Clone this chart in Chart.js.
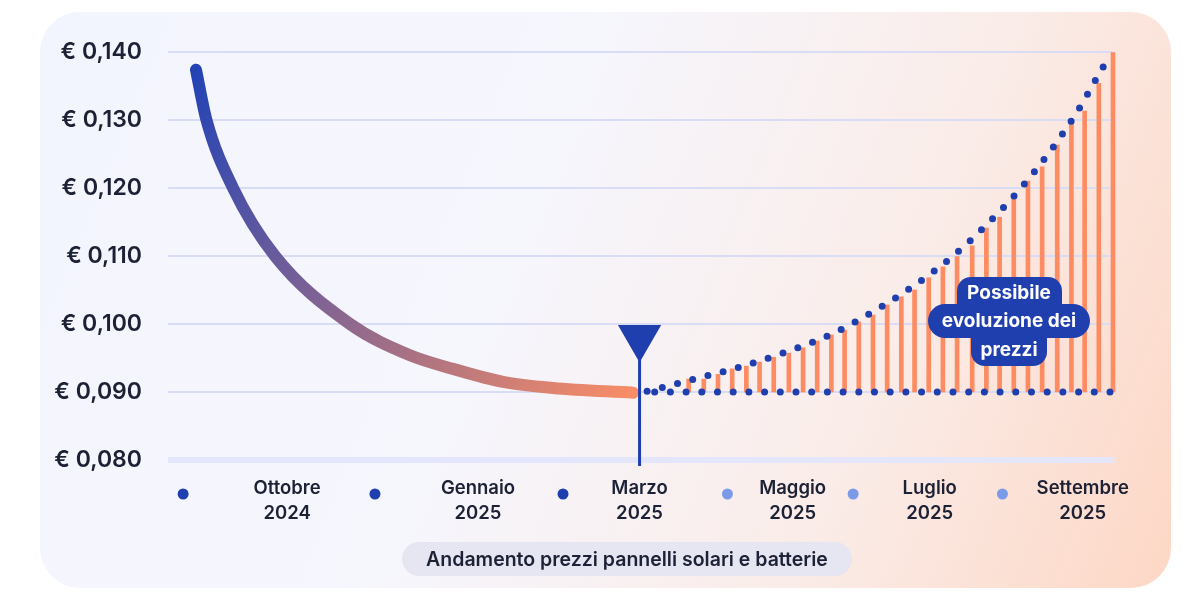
<!DOCTYPE html>
<html lang="it">
<head>
<meta charset="utf-8">
<title>Andamento prezzi pannelli solari e batterie</title>
<script src="https://cdn.jsdelivr.net/npm/chart.js@4/dist/chart.umd.min.js"></script>
<style>
  html, body { margin: 0; padding: 0; background: #ffffff; }
  body { width: 1200px; height: 600px; position: relative; overflow: hidden; font-family: 'Inter', sans-serif; }
  .card {
    position: absolute; left: 40px; top: 12px; width: 1131px; height: 576px;
    border-radius: 40px;
    background: linear-gradient(112deg, #f3f5fe 0%, #f6f6fd 42%, #faece8 72%, #fdd7c5 100%);
  }
  .wrap { position: absolute; left: 0; top: 0; width: 1200px; height: 600px; }
  .pill {
    position: absolute; left: 402px; top: 542px; width: 450px; height: 34px;
    line-height: 34px; text-align: center; border-radius: 17px;
    background: #e5e6f1; color: #1c2135; font-size: 19.5px; font-weight: 600;
    white-space: nowrap;
  }
  .note {
    position: absolute; left: 909px; top: 277px; width: 200px;
    display: flex; flex-direction: column; align-items: center;
    color: #ffffff; font-weight: 700; font-size: 19px;
  }
  .note span { background: #1f3fae; text-align: center; box-sizing: border-box; white-space: nowrap; }
  .note .l1 { width: 105px; height: 27px; line-height: 31px; border-radius: 14px 14px 0 0; }
  .note .l2 { width: 162px; height: 34px; line-height: 33px; border-radius: 17px; }
  .note .l3 { width: 76px; height: 28px; line-height: 23px; border-radius: 0 0 14px 14px; }
</style>
</head>
<body>
<div class="card"></div>
<div class="wrap"><canvas id="priceChart"></canvas></div>
<div class="pill">Andamento prezzi pannelli solari e batterie</div>
<div class="note"><span class="l1">Possibile</span><span class="l2">evoluzione dei</span><span class="l3">prezzi</span></div>

<script>
// Timeline runs 0..100 across the plot, prices in euro

// x axis: tick positions and labels, plus the little dots next to them
const tickPos = [12.6, 32.8, 49.9, 66.1, 80.6, 96.8];
const tickLabels = [
  ['Ottobre', '2024'], ['Gennaio', '2025'], ['Marzo', '2025'],
  ['Maggio', '2025'], ['Luglio', '2025'], ['Settembre', '2025']
];
const axisDotX = [1.6, 21.9, 41.8, 59.2, 72.5, 88.3];
const axisDotLevel = 0.075;

// price so far (falling curve)
const pastX = [2.96, 4.07, 6.88, 11.32, 19.26, 25.61, 30.16, 35.45, 40.74, 49.21];
const pastPrice = [0.1374, 0.1300, 0.1200, 0.1100, 0.1000, 0.0954, 0.0934, 0.0915, 0.0906, 0.0899];

// "today" marker
const markerX = 49.9;
const markerTop = 0.098;
const markerBottom = 0.0791;

// possible evolution (dotted curve)
const trendX = [50.7, 55.7, 60.6, 65.4, 70.2, 74.6, 78.9, 83.0, 86.7, 90.2, 93.3, 96.2, 98.7, 99.6];
const trendPrice = [0.0901, 0.0919, 0.0937, 0.0959, 0.0985, 0.1018, 0.1056, 0.1099, 0.1147, 0.1199, 0.1253, 0.1312, 0.1372, 0.1393];

// flat dotted base
const baseX = [51.5, 100.7];
const basePrice = 0.090;

// orange stems
const barX = [55.1, 56.7, 58.2, 59.7, 61.2, 62.6, 64.1, 65.7, 67.2, 68.7, 70.2, 71.6, 73.1, 74.6, 76.1, 77.6,
  79.0, 80.5, 82.0, 83.5, 85.1, 86.6, 88.0, 89.5, 91.0, 92.5, 94.1, 95.6, 97.0, 98.5, 100.0];
const barTop = [0.0919, 0.0919, 0.0926, 0.0934, 0.0938, 0.0944, 0.0951, 0.0957, 0.0965, 0.0975, 0.0984, 0.0991,
  0.1003, 0.1013, 0.1028, 0.1040, 0.1050, 0.1068, 0.1084, 0.1099, 0.1115, 0.1141, 0.1157, 0.1184, 0.1210,
  0.1231, 0.1263, 0.1297, 0.1313, 0.1354, 0.1399];

const colors = {
  blue: '#1f3fae',
  lightBlue: '#7b9be8',
  orange: '#fd8c62',
  start: '#2343b5',
  end: '#f98d66',
  text: '#1c2135',
  grid: '#d8ddf5',
  axis: '#e4e7fb',
};
const axisDotColors = [colors.blue, colors.blue, colors.blue, colors.lightBlue, colors.lightBlue, colors.lightBlue];

const pastGradient = (c) => {
  const chart = c.chart;
  if (!chart.chartArea) return colors.start;
  const xs = chart.scales.x, ys = chart.scales.y;
  const last = pastX.length - 1;
  const g = chart.ctx.createLinearGradient(
    xs.getPixelForValue(pastX[0]), ys.getPixelForValue(pastPrice[0]),
    xs.getPixelForValue(pastX[last]), ys.getPixelForValue(pastPrice[last]));
  g.addColorStop(0, colors.start);
  g.addColorStop(0.5, '#8e688e');
  g.addColorStop(1, colors.end);
  return g;
};

// dots in front of each month label (they sit below the plot, so points would be culled)
const axisDots = {
  id: 'axisDots',
  afterDatasetsDraw(chart) {
    const { ctx, scales: { x, y } } = chart;
    const py = y.getPixelForValue(axisDotLevel);
    ctx.save();
    axisDotX.forEach((v, i) => {
      ctx.beginPath();
      ctx.arc(x.getPixelForValue(v), py, 5.5, 0, Math.PI * 2);
      ctx.fillStyle = axisDotColors[i];
      ctx.fill();
    });
    ctx.restore();
  }
};

const dotted = {
  borderColor: colors.blue,
  borderWidth: 7,
  borderDash: [0, 15.7],
  borderCapStyle: 'round',
  pointRadius: 0,
  clip: false,
};

new Chart(document.getElementById('priceChart'), {
  type: 'line',
  data: {
    datasets: [
      {
        label: 'Marker',
        data: [{ x: markerX, y: markerTop }, { x: markerX, y: markerBottom }],
        borderColor: colors.blue,
        borderWidth: 3,
        pointStyle: 'triangle',
        pointRotation: 180,
        pointRadius: [22, 0],
        pointBackgroundColor: colors.blue,
        pointBorderColor: colors.blue,
        pointBorderWidth: 3,
        clip: false,
        order: 0,
      },
      Object.assign({
        label: 'Possibile evoluzione',
        data: trendX.map((x, i) => ({ x, y: trendPrice[i] })),
        cubicInterpolationMode: 'monotone',
        order: 1,
      }, dotted),
      Object.assign({
        label: 'Base',
        data: baseX.map(x => ({ x, y: basePrice })),
        order: 2,
      }, dotted),
      {
        type: 'bar',
        label: 'Stems',
        data: barX.map((x, i) => ({ x, y: [basePrice, barTop[i]] })),
        backgroundColor: colors.orange,
        barThickness: 4,
        clip: false,
        order: 3,
      },
      {
        label: 'Prezzo',
        data: pastX.map((x, i) => ({ x, y: pastPrice[i] })),
        borderColor: pastGradient,
        borderWidth: 12,
        borderCapStyle: 'round',
        cubicInterpolationMode: 'monotone',
        pointRadius: 0,
        clip: false,
        order: 4,
      },
    ]
  },
  options: {
    responsive: true,
    maintainAspectRatio: false,
    animation: false,
    layout: { padding: { top: 52, right: 87, left: 0, bottom: 0 } },
    plugins: {
      legend: { display: false },
      tooltip: { enabled: false },
    },
    scales: {
      x: {
        type: 'linear',
        min: 0,
        max: 100,
        offset: false,
        afterBuildTicks: (scale) => {
          scale.ticks = tickPos.map(v => ({ value: v }));
        },
        afterFit: (scale) => { scale.height = 140; },
        grid: { display: false, drawTicks: false },
        border: { display: false },
        ticks: {
          autoSkip: false,
          maxRotation: 0,
          padding: 16,
          color: colors.text,
          font: { family: 'Inter', size: 18.5, weight: '600', lineHeight: 1.35 },
          callback: (value, index) => tickLabels[index],
        }
      },
      y: {
        min: 0.08,
        max: 0.14,
        afterFit: (scale) => { scale.width = 168; },
        grid: {
          drawTicks: false,
          color: (c) => Math.abs(c.tick.value - 0.08) < 1e-6 ? colors.axis : colors.grid,
          lineWidth: (c) => Math.abs(c.tick.value - 0.08) < 1e-6 ? 6 : 2,
        },
        border: { display: false },
        ticks: {
          stepSize: 0.01,
          padding: 26,
          color: colors.text,
          font: { family: 'Inter', size: 23, weight: '600' },
          callback: (value) => '€ ' + value.toFixed(3).replace('.', ','),
        }
      }
    }
  },
  plugins: [axisDots]
});
</script>
</body>
</html>
